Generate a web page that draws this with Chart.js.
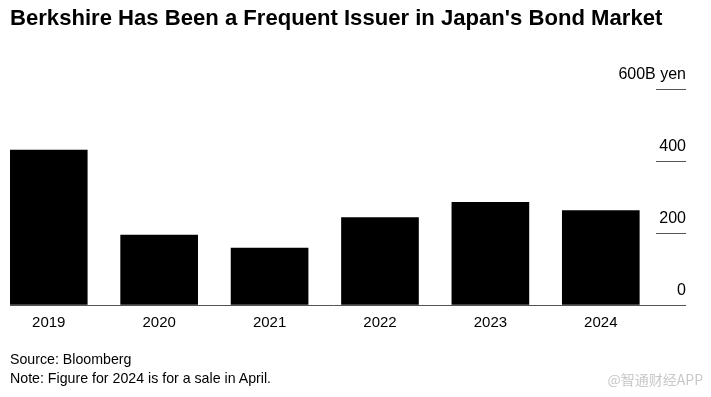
<!DOCTYPE html>
<html>
<head>
<meta charset="utf-8">
<script src="https://cdn.jsdelivr.net/npm/chart.js@4"></script>
<style>
    body { margin: 0; background: #fff; font-family: "Liberation Sans", Arial, sans-serif; }
    #wrap { position: relative; width: 711px; height: 397px; overflow: hidden; }
    #chart { position: absolute; left: 0; top: 0; }
    .title { position: absolute; left: 10px; top: 5px; font-size: 22.1px; font-weight: bold; color: #000; white-space: nowrap; }
    .foot { position: absolute; left: 10px; font-size: 14.2px; color: #000; white-space: nowrap; }
    .mark { position: absolute; right: 8px; top: 369px; font-size: 14px; color: #c8c8c8; font-family: "Noto Sans CJK SC", sans-serif; }
</style>
</head>
<body>
<div id="wrap">
    <canvas id="chart" width="711" height="397"></canvas>
    <div class="title">Berkshire Has Been a Frequent Issuer in Japan's Bond Market</div>
    <div class="foot" style="top:351px">Source: Bloomberg</div>
    <div class="foot" style="top:370px">Note: Figure for 2024 is for a sale in April.</div>
    <div class="mark">@智通财经APP</div>
</div>
<script>
// Chart data
const years = [2019, 2020, 2021, 2022, 2023, 2024];
const issued = [430, 194, 158, 243, 285, 262]; // billion yen
const yTicks = [0, 200, 400, 600];
const yUnit = 'B yen';

document.addEventListener('DOMContentLoaded', () => {
    const ctx = document.getElementById('chart').getContext('2d');

    new Chart(ctx, {
        type: 'bar',
        data: {
            datasets: [{
                data: years.map((y, i) => ({ x: y, y: issued[i] })),
                backgroundColor: '#000',
                barThickness: 77
            }]
        },
        options: {
            responsive: false,
            animation: false,
            layout: {
                padding: { left: 10, right: 25, top: 89, bottom: 56 }
            },
            plugins: {
                legend: { display: false },
                tooltip: { enabled: false }
            },
            scales: {
                x: {
                    type: 'linear',
                    offset: false,
                    min: 2018.649,
                    max: 2024.5,
                    grid: { display: false, drawTicks: false, offset: false },
                    border: { display: true, color: '#555', width: 1 },
                    ticks: {
                        stepSize: 1,
                        includeBounds: false,
                        padding: 9,
                        color: '#000',
                        font: { family: 'Liberation Sans', size: 15 },
                        callback: (v) => String(v)
                    }
                },
                y: {
                    position: 'right',
                    min: 0,
                    max: 600,
                    afterFit: (scale) => { scale.width = 30; },
                    grid: { drawOnChartArea: false, tickLength: 30, color: '#555', lineWidth: 1 },
                    border: { display: false },
                    afterBuildTicks: (scale) => { scale.ticks = yTicks.map(v => ({ value: v })); },
                    ticks: {
                        mirror: true,
                        padding: 30,
                        crossAlign: 'near',
                        labelOffset: -14,
                        color: '#000',
                        font: { family: 'Liberation Sans', size: 16 },
                        callback: (v) => v === 600 ? v + yUnit : String(v)
                    }
                }
            }
        }
    });
});
</script>
</body>
</html>
